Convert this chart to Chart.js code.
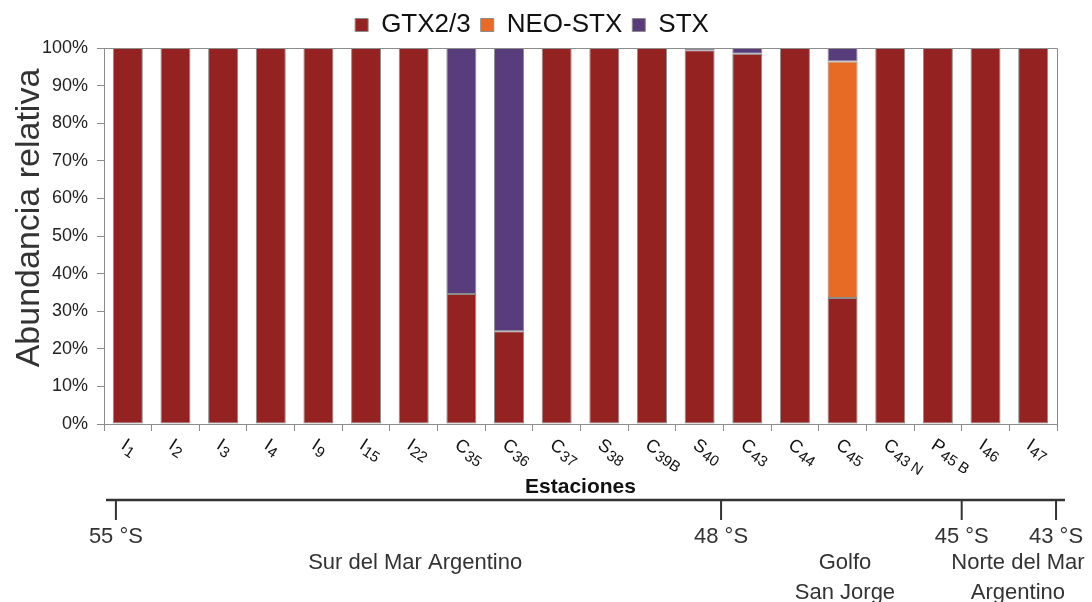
<!DOCTYPE html>
<html>
<head>
<meta charset="utf-8">
<script src="https://cdn.jsdelivr.net/npm/chart.js@4"></script>
<style>
body{margin:0;background:#fff;}
#wrap{width:1092px;height:602px;}
</style>
</head>
<body>
<div id="wrap"><canvas id="c" width="1092" height="602"></canvas></div>
<script>
// datos (abundancia relativa, %)
var categories = ['I1','I2','I3','I4','I9','I15','I22','C35','C36','C37','S38','C39B','S40','C43','C44','C45','C43 N','P45 B','I46','I47'];
var gtx = [100,100,100,100,100,100,100,34.6,24.7,100,100,100,99.4,98.5,100,33.5,100,100,100,100];
var neoStx = [0,0,0,0,0,0,0,0,0,0,0,0,0,0,0,62.9,0,0,0,0];
var stx = [0,0,0,0,0,0,0,65.4,75.3,0,0,0,0.6,1.5,0,3.6,0,0,0,0];
var yTicks = [0,10,20,30,40,50,60,70,80,90,100];

// marcas de latitud y regiones (posicion en unidades de categoria)
var latMarks = [
	{label: '55 °S', at: -0.25},
	{label: '48 °S', at: 12.45},
	{label: '45 °S', at: 17.5},
	{label: '43 °S', at: 19.48}
];
var regions = [
	{lines: ['Sur del Mar Argentino'], at: 6.03},
	{lines: ['Golfo', 'San Jorge'], at: 15.05},
	{lines: ['Norte del Mar', 'Argentino'], at: 18.68}
];

var FONT = 'Arial, "Liberation Sans", sans-serif';
Chart.defaults.font.family = FONT;

var extras = {
	id: 'extras',
	afterDraw: function(chart){
		var ctx = chart.ctx, a = chart.chartArea, x = chart.scales.x;
		ctx.save();

		// marco arriba y derecha
		ctx.strokeStyle = '#8c8c8c';
		ctx.lineWidth = 1;
		ctx.beginPath();
		ctx.moveTo(a.left - 7, a.top + 0.5);
		ctx.lineTo(a.right + 0.5, a.top + 0.5);
		ctx.lineTo(a.right + 0.5, a.bottom);
		ctx.stroke();

		// etiquetas de estaciones (inclinadas, con subindice)
		ctx.fillStyle = '#111';
		ctx.textAlign = 'left';
		ctx.textBaseline = 'top';
		categories.forEach(function(c, i){
			var px = x.getPixelForValue(i);
			ctx.save();
			ctx.translate(px, a.bottom + 12);
			ctx.rotate(33 * Math.PI / 180);
			var head = c.charAt(0), tail = c.slice(1);
			ctx.font = '18px ' + FONT;
			ctx.fillText(head, 0, 0);
			var w = ctx.measureText(head).width;
			ctx.font = '15px ' + FONT;
			ctx.fillText(tail, w + 1, 6);
			ctx.restore();
		});

		// titulo eje x
		ctx.textAlign = 'center';
		ctx.textBaseline = 'middle';
		ctx.font = 'bold 21px ' + FONT;
		ctx.fillText('Estaciones', (a.left + a.right) / 2, a.bottom + 63);

		// titulo eje y
		ctx.save();
		ctx.translate(30, 218);
		ctx.rotate(-Math.PI / 2);
		ctx.fillStyle = '#333';
		ctx.font = '34px ' + FONT;
		ctx.fillText('Abundancia relativa', 0, 0);
		ctx.restore();

		// linea de latitudes
		var yLine = a.bottom + 76;
		ctx.strokeStyle = '#333';
		ctx.lineWidth = 2.5;
		ctx.beginPath();
		ctx.moveTo(a.left + 2, yLine);
		ctx.lineTo(a.right + 8, yLine);
		ctx.stroke();
		ctx.lineWidth = 2;
		ctx.fillStyle = '#333';
		ctx.font = '22px ' + FONT;
		latMarks.forEach(function(m){
			var px = x.getPixelForValue(m.at);
			ctx.beginPath();
			ctx.moveTo(px, yLine);
			ctx.lineTo(px, yLine + 20);
			ctx.stroke();
			ctx.fillText(m.label, px, yLine + 37);
		});
		regions.forEach(function(r){
			var px = x.getPixelForValue(r.at);
			r.lines.forEach(function(t, k){
				ctx.fillText(t, px, yLine + 63 + k * 30);
			});
		});
		ctx.restore();
	}
};

var common = {borderColor: '#8c8c8c', borderWidth: 1, borderSkipped: false, barPercentage: 0.63, categoryPercentage: 1.0};

new Chart(document.getElementById('c'), {
	type: 'bar',
	data: {
		labels: categories,
		datasets: [
			Object.assign({label: 'GTX2/3', data: gtx, backgroundColor: '#932220'}, common),
			Object.assign({label: 'NEO-STX', data: neoStx, backgroundColor: '#e86b25'}, common),
			Object.assign({label: 'STX', data: stx, backgroundColor: '#583c7c'}, common)
		]
	},
	options: {
		responsive: false,
		animation: false,
		layout: {padding: {top: 2, left: 7, right: 35, bottom: 171}},
		plugins: {
			legend: {
				position: 'top',
				labels: {boxWidth: 13, boxHeight: 13, padding: 10, color: '#111', font: {size: 26}}
			},
			tooltip: {enabled: false}
		},
		scales: {
			x: {
				stacked: true,
				grid: {drawOnChartArea: false, tickLength: 7, color: '#8c8c8c'},
				border: {color: '#8c8c8c'},
				ticks: {display: false}
			},
			y: {
				stacked: true,
				min: 0, max: 100,
				afterBuildTicks: function(s){ s.ticks = yTicks.map(function(v){ return {value: v}; }); },
				afterFit: function(s){ s.width = 97; },
				grid: {drawOnChartArea: false, tickLength: 7, color: '#8c8c8c'},
				border: {color: '#8c8c8c'},
				ticks: {color: '#222', font: {size: 18}, padding: 9, callback: function(v){ return v + '%'; }}
			}
		}
	},
	plugins: [extras]
});
</script>
</body>
</html>
